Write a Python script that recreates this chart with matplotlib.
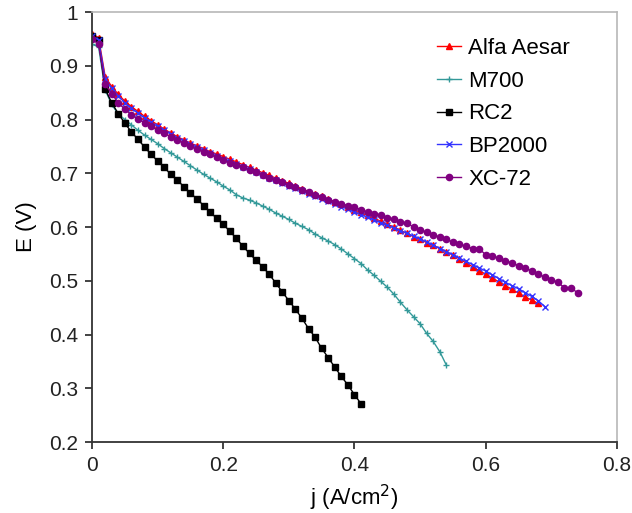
import matplotlib
matplotlib.use('Agg')
import matplotlib.pyplot as plt
from matplotlib.ticker import FuncFormatter

plt.rcParams['font.family'] = ['Liberation Sans', 'DejaVu Sans']

# current density grid (A/cm2), one sample every 0.01
j_grid = [0.00, 0.01, 0.02, 0.03, 0.04, 0.05, 0.06, 0.07, 0.08, 0.09,
          0.10, 0.11, 0.12, 0.13, 0.14, 0.15, 0.16, 0.17, 0.18, 0.19,
          0.20, 0.21, 0.22, 0.23, 0.24, 0.25, 0.26, 0.27, 0.28, 0.29,
          0.30, 0.31, 0.32, 0.33, 0.34, 0.35, 0.36, 0.37, 0.38, 0.39,
          0.40, 0.41, 0.42, 0.43, 0.44, 0.45, 0.46, 0.47, 0.48, 0.49,
          0.50, 0.51, 0.52, 0.53, 0.54, 0.55, 0.56, 0.57, 0.58, 0.59,
          0.60, 0.61, 0.62, 0.63, 0.64, 0.65, 0.66, 0.67, 0.68, 0.69,
          0.70, 0.71, 0.72, 0.73, 0.74]

E_alfa = [0.960, 0.952, 0.880, 0.861, 0.847, 0.834, 0.824, 0.815, 0.806, 0.798,
          0.790, 0.782, 0.775, 0.768, 0.762, 0.756, 0.751, 0.746, 0.740, 0.736,
          0.731, 0.726, 0.721, 0.716, 0.711, 0.706, 0.701, 0.696, 0.691, 0.686,
          0.681, 0.676, 0.671, 0.666, 0.661, 0.657, 0.652, 0.647, 0.642, 0.637,
          0.632, 0.627, 0.622, 0.616, 0.611, 0.605, 0.600, 0.594, 0.588, 0.582,
          0.577, 0.571, 0.566, 0.560, 0.554, 0.548, 0.541, 0.533, 0.526, 0.519,
          0.512, 0.505, 0.498, 0.491, 0.484, 0.477, 0.470, 0.464, 0.458]

E_m700 = [0.940, 0.935, 0.855, 0.828, 0.810, 0.800, 0.790, 0.780, 0.771, 0.763,
          0.755, 0.746, 0.738, 0.730, 0.722, 0.714, 0.706, 0.698, 0.691, 0.684,
          0.676, 0.669, 0.660, 0.654, 0.650, 0.645, 0.639, 0.633, 0.626, 0.620,
          0.614, 0.607, 0.601, 0.595, 0.587, 0.580, 0.574, 0.567, 0.559, 0.550,
          0.541, 0.532, 0.520, 0.510, 0.499, 0.488, 0.475, 0.460, 0.446, 0.433,
          0.420, 0.402, 0.387, 0.368, 0.343]

E_rc2 = [0.955, 0.948, 0.857, 0.831, 0.811, 0.793, 0.777, 0.763, 0.749, 0.735,
         0.723, 0.711, 0.698, 0.687, 0.675, 0.663, 0.652, 0.640, 0.628, 0.616,
         0.605, 0.592, 0.579, 0.564, 0.551, 0.538, 0.526, 0.512, 0.496, 0.479,
         0.463, 0.447, 0.430, 0.411, 0.395, 0.374, 0.357, 0.339, 0.322, 0.306,
         0.288, 0.271]

E_bp2000 = [0.955, 0.948, 0.876, 0.858, 0.844, 0.831, 0.821, 0.812, 0.803, 0.795,
            0.787, 0.780, 0.773, 0.766, 0.760, 0.754, 0.748, 0.743, 0.737, 0.732,
            0.727, 0.722, 0.717, 0.712, 0.707, 0.702, 0.697, 0.692, 0.687, 0.682,
            0.677, 0.672, 0.667, 0.662, 0.657, 0.653, 0.648, 0.643, 0.638, 0.633,
            0.628, 0.623, 0.618, 0.613, 0.608, 0.603, 0.598, 0.593, 0.588, 0.583,
            0.578, 0.572, 0.566, 0.560, 0.554, 0.548, 0.542, 0.536, 0.530, 0.524,
            0.518, 0.511, 0.504, 0.497, 0.491, 0.485, 0.478, 0.471, 0.463, 0.452]

E_xc72 = [0.950, 0.940, 0.866, 0.848, 0.831, 0.819, 0.809, 0.801, 0.794, 0.787,
          0.780, 0.774, 0.768, 0.762, 0.756, 0.750, 0.745, 0.740, 0.735, 0.730,
          0.725, 0.720, 0.716, 0.711, 0.706, 0.702, 0.697, 0.692, 0.688, 0.683,
          0.678, 0.674, 0.669, 0.665, 0.660, 0.656, 0.651, 0.647, 0.643, 0.640,
          0.637, 0.632, 0.628, 0.625, 0.622, 0.617, 0.614, 0.610, 0.607, 0.600,
          0.595, 0.590, 0.586, 0.581, 0.577, 0.572, 0.568, 0.564, 0.560, 0.560,
          0.548, 0.546, 0.542, 0.537, 0.533, 0.528, 0.524, 0.518, 0.512, 0.507,
          0.502, 0.497, 0.487, 0.486, 0.478]

series = [
    ('Alfa Aesar', E_alfa, '#ff0000', '^', 5),
    ('M700', E_m700, '#339999', '+', 5),
    ('RC2', E_rc2, '#000000', 's', 4),
    ('BP2000', E_bp2000, '#3333ff', 'x', 5),
    ('XC-72', E_xc72, '#800080', 'o', 4.5),
]

fig = plt.figure(figsize=(6.32, 5.13), dpi=100)
ax = fig.add_axes([0.1456, 0.1384, 0.8306, 0.8382])

for name, E, col, mk, ms in series:
    ax.plot(j_grid[:len(E)], E, color=col, marker=mk, markersize=ms,
            linewidth=1, markeredgewidth=1, label=name)

ax.set_xlim(0, 0.8)
ax.set_ylim(0.2, 1.0)
ax.set_xticks([0, 0.2, 0.4, 0.6, 0.8])
ax.set_yticks([0.2, 0.3, 0.4, 0.5, 0.6, 0.7, 0.8, 0.9, 1.0])
fmt = FuncFormatter(lambda v, p: '%g' % v)
ax.xaxis.set_major_formatter(fmt)
ax.yaxis.set_major_formatter(fmt)
ax.tick_params(direction='out', length=5, width=1.2, labelsize=15, pad=5,
               colors='#222222')

for side in ('left', 'bottom'):
    ax.spines[side].set_color('#333333')
    ax.spines[side].set_linewidth(1.3)
for side in ('top', 'right'):
    ax.spines[side].set_color('#b8b8b8')
    ax.spines[side].set_linewidth(1.2)

ax.set_xlabel('j (A/cm$^2$)', fontsize=16, labelpad=6)
ax.set_ylabel('E (V)', fontsize=16, labelpad=9)

ax.legend(loc='upper left', bbox_to_anchor=(0.657, 0.94), frameon=False,
          fontsize=16, handlelength=1.1, handletextpad=0.3, labelspacing=0.53,
          borderpad=0, borderaxespad=0)

fig.savefig('out.png', dpi=100)
